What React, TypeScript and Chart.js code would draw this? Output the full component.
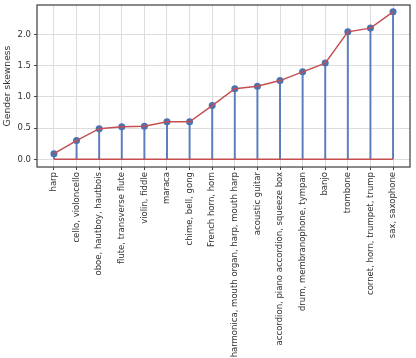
import React, { useEffect, useRef } from "react";
import { Chart, registerables } from "chart.js";

Chart.register(...registerables);

const instruments = [
  "harp",
  "cello, violoncello",
  "oboe, hautboy, hautbois",
  "flute, transverse flute",
  "violin, fiddle",
  "maraca",
  "chime, bell, gong",
  "French horn, horn",
  "harmonica, mouth organ, harp, mouth harp",
  "acoustic guitar",
  "accordion, piano accordion, squeeze box",
  "drum, membranophone, tympan",
  "banjo",
  "trombone",
  "cornet, horn, trumpet, trump",
  "sax, saxophone",
];

const skewness = [0.09, 0.3, 0.49, 0.52, 0.53, 0.6, 0.6, 0.86, 1.13, 1.17, 1.26, 1.4, 1.54, 2.04, 2.1, 2.36];

const yTickValues = [0, 0.5, 1.0, 1.5, 2.0];

export default function App() {
  const ref = useRef<HTMLCanvasElement>(null);

  useEffect(() => {
    if (!ref.current) return;
    const pts = skewness.map((v, i) => ({ x: i, y: v }));
    const base = [
      { x: 0, y: 0 },
      { x: instruments.length - 1, y: 0 },
    ];
    const font = { family: "'DejaVu Sans', sans-serif", size: 8.5 };
    const titleFont = { family: "'DejaVu Sans', sans-serif", size: 9.2 };
    const textColor = "#333333";

    const frame = {
      id: "frame",
      afterDraw(chart: any) {
        const { ctx, chartArea: a } = chart;
        ctx.save();
        ctx.strokeStyle = "#444444";
        ctx.lineWidth = 1.25;
        ctx.strokeRect(a.left, a.top, a.right - a.left, a.bottom - a.top);
        ctx.restore();
      },
    };

    const chart = new Chart(ref.current, {
      type: "line",
      data: {
        datasets: [
          {
            type: "line",
            data: pts,
            borderColor: "#c44e52",
            borderWidth: 1.5,
            pointRadius: 0,
            order: 0,
          },
          {
            type: "scatter",
            data: pts,
            pointRadius: 3.5,
            pointBackgroundColor: "#4c72b0",
            pointBorderWidth: 0,
            showLine: false,
            order: 1,
          },
          {
            type: "line",
            data: base,
            borderColor: "#c44e52",
            borderWidth: 1.5,
            pointRadius: 0,
            order: 2,
          },
          {
            type: "bar",
            data: pts,
            backgroundColor: "#5a7dbb",
            barThickness: 1.3,
            order: 3,
          },
        ] as any,
      },
      options: {
        animation: false,
        responsive: false,
        events: [],
        layout: { padding: { top: 5, right: 6, left: 0, bottom: 0 } },
        plugins: { legend: { display: false }, tooltip: { enabled: false } },
        scales: {
          x: {
            type: "linear",
            offset: false,
            min: -0.75,
            max: instruments.length - 1 + 0.75,
            afterBuildTicks: (s: any) => {
              s.ticks = instruments.map((_, i) => ({ value: i }));
            },
            afterFit: (s: any) => {
              s.height = 191;
              s.paddingLeft = 0;
              s.paddingRight = 0;
            },
            ticks: {
              autoSkip: false,
              maxRotation: 90,
              minRotation: 90,
              padding: 2,
              font,
              color: textColor,
              callback: (v: any) => instruments[v],
            },
            grid: { offset: false, color: "#dddddd", tickColor: "#444444", tickLength: 3, lineWidth: 1 },
            border: { display: false },
          },
          y: {
            type: "linear",
            min: -0.123,
            max: 2.47,
            afterBuildTicks: (s: any) => {
              s.ticks = yTickValues.map((v) => ({ value: v }));
            },
            afterFit: (s: any) => {
              s.width = 37;
              s.paddingTop = 0;
              s.paddingBottom = 0;
            },
            ticks: {
              padding: 3,
              font,
              color: textColor,
              callback: (v: any) => Number(v).toFixed(1),
            },
            title: { display: true, text: "Gender skewness", font: titleFont, color: textColor, padding: { top: 2, bottom: 0 } },
            grid: { color: "#dddddd", tickColor: "#444444", tickLength: 3, lineWidth: 1 },
            border: { display: false },
          },
        },
      } as any,
      plugins: [frame],
    });
    return () => chart.destroy();
  }, []);

  return (
    <div style={{ position: "absolute", left: 0, top: 0, width: 416, height: 358 }}>
      <canvas ref={ref} width={416} height={358} />
    </div>
  );
}
